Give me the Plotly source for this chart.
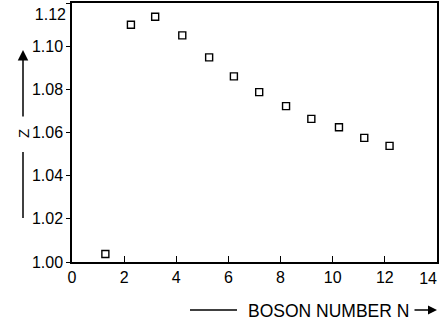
import plotly.graph_objects as go

boson_n = [1.28, 2.26, 3.19, 4.23, 5.26, 6.21, 7.18, 8.21, 9.18, 10.24, 11.21, 12.18]
z_values = [1.0037, 1.1099, 1.1136, 1.1050, 1.0948, 1.0860, 1.0787, 1.0722, 1.0663, 1.0624, 1.0575, 1.0538]
x_ticks = [0, 2, 4, 6, 8, 10, 12, 14]
y_ticks = [1.00, 1.02, 1.04, 1.06, 1.08, 1.10, 1.12]
x_range = [0, 14]
y_range = [1.00, 1.12]

W, H = 443, 334
L, R, T, B = 72, 6, 3, 72
pw, ph = W - L - R, H - T - B

def px(x):
    return (x - L) / pw

def py(y):
    return (H - B - y) / ph

TICKFONT = dict(family="Liberation Sans, Arial, sans-serif", size=16, color="black")

fig = go.Figure()
fig.add_trace(go.Scatter(
    x=boson_n, y=z_values, mode="markers",
    marker=dict(symbol="square-open", size=7, color="black", line=dict(width=1.4, color="black")),
    showlegend=False, cliponaxis=False,
))
# helper trace so the edge-label axes are drawn
fig.add_trace(go.Scatter(
    x=boson_n, y=z_values, mode="markers", xaxis="x2", yaxis="y2",
    marker=dict(opacity=0), hoverinfo="skip", showlegend=False,
))

last_x, last_y = x_ticks[-1], y_ticks[-1]

fig.update_layout(
    xaxis=dict(
        range=x_range, tickvals=x_ticks,
        ticktext=[str(v) if v != last_x else "" for v in x_ticks],
        ticks="inside", ticklen=6, tickwidth=1.2, tickcolor="black",
        showline=True, linecolor="black", linewidth=1.5, mirror=True,
        showgrid=False, zeroline=False, tickfont=TICKFONT, automargin=False,
    ),
    yaxis=dict(
        range=y_range, tickvals=y_ticks,
        ticktext=[f"{v:.2f}" if v != last_y else "" for v in y_ticks],
        ticks="outside", ticklen=4, tickwidth=1.2, tickcolor="black",
        showline=True, linecolor="black", linewidth=1.5, mirror=True,
        showgrid=False, zeroline=False, tickfont=TICKFONT, automargin=False,
    ),
    xaxis2=dict(
        overlaying="x", anchor="y", side="bottom", range=x_range,
        tickvals=[last_x], ticktext=[str(last_x)], ticklabelposition="outside left",
        ticklabelstandoff=5,
        ticks="", showline=False, showgrid=False, zeroline=False,
        tickfont=TICKFONT, automargin=False,
    ),
    yaxis2=dict(
        overlaying="y", anchor="x", side="left", range=y_range,
        tickvals=[last_y], ticktext=[f"{last_y:.2f}"], ticklabelposition="outside bottom",
        ticklabelstandoff=5,
        ticks="", showline=False, showgrid=False, zeroline=False,
        tickfont=TICKFONT, automargin=False,
    ),
)

annotations = [
    dict(text="Z", x=px(23), y=py(134), xref="paper", yref="paper", showarrow=False,
         textangle=-90, font=dict(family="Liberation Sans, sans-serif", size=15, color="black"),
         xanchor="center", yanchor="middle"),
    dict(text="", x=px(23), y=py(50), xref="paper", yref="paper", showarrow=True,
         ax=0, ay=68, arrowhead=2, arrowsize=1.4, arrowwidth=1.5, arrowcolor="black"),
    dict(text="BOSON NUMBER N", x=px(246), y=py(311), xref="paper", yref="paper", showarrow=False,
         xanchor="left", yanchor="middle",
         font=dict(family="Liberation Sans, sans-serif", size=17.5, color="black")),
    dict(text="", x=px(437), y=py(310), xref="paper", yref="paper", showarrow=True,
         ax=-24, ay=0, arrowhead=2, arrowsize=1.2, arrowwidth=1.5, arrowcolor="black"),
]

shapes = [
    dict(type="line", xref="paper", yref="paper", x0=px(23), x1=px(23), y0=py(152), y1=py(218),
         line=dict(color="black", width=1.5)),
    dict(type="line", xref="paper", yref="paper", x0=px(190), x1=px(237), y0=py(310), y1=py(310),
         line=dict(color="black", width=1.5)),
]

fig.update_layout(
    width=W, height=H, margin=dict(l=L, r=R, t=T, b=B, autoexpand=False),
    paper_bgcolor="white", plot_bgcolor="white",
    annotations=annotations, shapes=shapes,
)

fig.write_html("out.html", config={"displayModeBar": False},
               post_script="document.body.style.margin='0';document.body.style.padding='0';")
